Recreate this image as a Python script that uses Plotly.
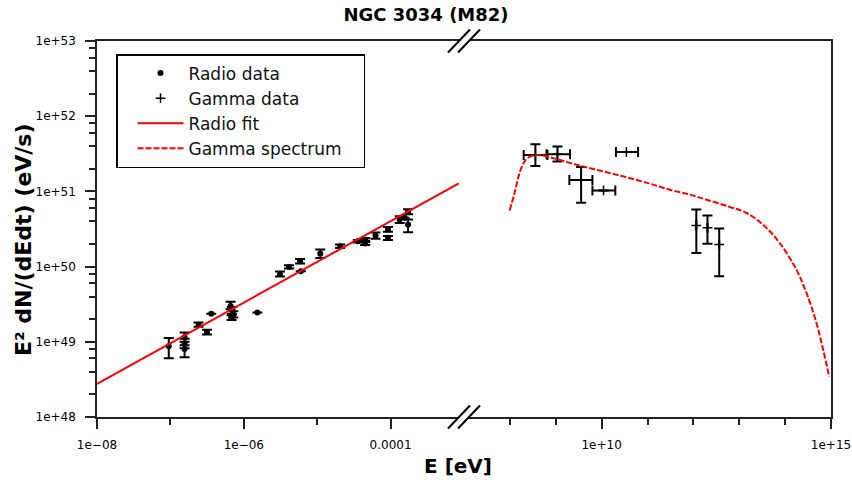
import plotly.graph_objects as go

# ---------------- data ----------------
radio_E = [9.5e-8, 1.56e-7, 1.56e-7, 1.56e-7, 2.42e-7, 3.15e-7, 3.6e-7, 6.6e-7, 6.9e-7,
           7.2e-7, 6.8e-7, 1.53e-6, 3.11e-6, 4.13e-6, 5.85e-6, 5.98e-6, 1.1e-5, 2.05e-5,
           3.57e-5, 4.5e-5, 4.5e-5, 6.23e-5, 9.2e-5, 9.2e-5, 1.33e-4, 1.55e-4, 1.73e-4, 1.73e-4]
radio_val = [8.7e48, 1.15e49, 9.5e48, 8.0e48, 1.69e49, 1.35e49, 2.36e49, 3.0e49, 2.6e49,
             2.3e49, 2.1e49, 2.46e49, 8.0e49, 9.9e49, 1.18e50, 8.65e49, 1.49e50, 1.87e50,
             2.17e50, 2.29e50, 2.03e50, 2.59e50, 3.11e50, 2.41e50, 4.23e50, 4.46e50, 5.36e50, 3.63e50]
radio_hi = [1.12e49, 1.33e49, 1.1e49, 9.0e48, 1.8e49, 1.45e49, 2.36e49, 3.4e49, 2.9e49,
            2.55e49, 2.25e49, 2.46e49, 8.6e49, 1.04e50, 1.26e50, 8.65e49, 1.69e50, 1.97e50,
            2.25e50, 2.4e50, 2.12e50, 2.85e50, 3.35e50, 2.55e50, 4.69e50, 4.46e50, 5.8e50, 4.23e50]
radio_lo = [6.06e48, 1.0e49, 8.2e48, 6.25e48, 1.58e49, 1.25e49, 2.36e49, 2.7e49, 2.35e49,
            2.1e49, 1.95e49, 2.46e49, 7.4e49, 9.4e49, 1.1e50, 8.65e49, 1.3e50, 1.77e50,
            2.09e50, 2.2e50, 1.94e50, 2.35e50, 2.9e50, 2.25e50, 3.8e50, 4.46e50, 4.95e50, 2.87e50]

fit_E = [1e-8, 8.5e-4]
fit_val = [2.75e48, 1.28e51]

gamma_E = [3.6e8, 1.09e9, 3.57e9, 1.1e10, 3.46e10, 1.16e12, 2.03e12, 3.66e12]
gamma_E_lo = [2.0e8, 6.3e8, 1.98e9, 6.3e9, 2.05e10, 1.16e12, 2.03e12, 3.66e12]
gamma_E_hi = [6.6e8, 2.05e9, 6.3e9, 1.99e10, 6.2e10, 1.16e12, 2.03e12, 3.66e12]
gamma_val = [3.05e51, 3.11e51, 1.42e51, 1.03e51, 3.34e51, 3.52e50, 3.28e50, 1.97e50]
gamma_val_lo = [2.17e51, 2.49e51, 7.06e50, 1.03e51, 3.34e51, 1.52e50, 2.01e50, 7.43e49]
gamma_val_hi = [4.23e51, 3.95e51, 2.11e51, 1.03e51, 3.34e51, 5.75e50, 4.79e50, 3.21e50]

spec_E = [9.9e7, 1.27e8, 1.64e8, 2.11e8, 2.72e8, 3.79e8, 4.88e8, 9.6e8, 2.64e9, 7.24e9,
          2.77e10, 1.07e11, 2.93e11, 8.05e11, 1.87e12, 6.07e12, 1.41e13, 3.26e13, 7.57e13,
          1.76e14, 2.92e14, 4.83e14, 6.75e14, 9.14e14]
spec_val = [5.58e50, 9.62e50, 1.78e51, 2.53e51, 2.9e51, 3.05e51, 3.02e51, 2.73e51, 2.29e51,
            1.96e51, 1.6e51, 1.28e51, 1.06e51, 9.12e50, 7.82e50, 6.25e50, 5.2e50, 3.63e50,
            2.07e50, 9.12e49, 4.46e49, 1.77e49, 7.82e48, 3.44e48]

y_tick_vals = [1e48, 1e49, 1e50, 1e51, 1e52, 1e53]
y_tick_text = ["1e+48", "1e+49", "1e+50", "1e+51", "1e+52", "1e+53"]
y_minor_mult = [2.0, 4.0, 6.0, 8.0]
x1_tick_vals = [1e-8, 1e-6, 1e-4]
x1_tick_text = ["1e\u221208", "1e\u221206", "0.0001"]
x1_minor = [1e-7, 1e-5]
x2_tick_vals = [1e10, 1e15]
x2_tick_text = ["1e+10", "1e+15"]
x2_minor = [1e8, 1e9, 1e11, 1e12, 1e13, 1e14]

# ---------------- helpers ----------------
def diff_or_none(a, b):
    return [(x - y) if x != y else None for x, y in zip(a, b)]

FONT = "DejaVu Sans"
NB = "\u00a0"
y_minor = [m * d for d in y_tick_vals[:-1] for m in y_minor_mult]

fig = go.Figure()

fig.add_trace(go.Scatter(
    x=radio_E, y=radio_val, mode="markers", name="Radio data",
    marker=dict(symbol="circle", size=6, color="black"),
    error_y=dict(type="data", symmetric=False,
                 array=diff_or_none(radio_hi, radio_val),
                 arrayminus=diff_or_none(radio_val, radio_lo),
                 color="black", thickness=2, width=5),
    xaxis="x", yaxis="y"))

fig.add_trace(go.Scatter(
    x=gamma_E, y=gamma_val, mode="markers", name="Gamma data",
    marker=dict(symbol="cross-thin", size=7, color="black",
                line=dict(width=1.5, color="black")),
    error_y=dict(type="data", symmetric=False,
                 array=diff_or_none(gamma_val_hi, gamma_val),
                 arrayminus=diff_or_none(gamma_val, gamma_val_lo),
                 color="black", thickness=2, width=5),
    error_x=dict(type="data", symmetric=False,
                 array=diff_or_none(gamma_E_hi, gamma_E),
                 arrayminus=diff_or_none(gamma_E, gamma_E_lo),
                 color="black", thickness=2, width=5),
    xaxis="x2", yaxis="y2"))

fig.add_trace(go.Scatter(
    x=fit_E, y=fit_val, mode="lines", name="Radio fit",
    line=dict(color="#ff0000", width=2), xaxis="x", yaxis="y"))

fig.add_trace(go.Scatter(
    x=spec_E, y=spec_val, mode="lines", name="Gamma spectrum" + NB * 3,
    line_shape="spline",
    line=dict(color="#ff0000", width=2, dash="6px,2px"), xaxis="x2", yaxis="y2"))

axis_common = dict(type="log", showgrid=False, zeroline=False, showline=True,
                   automargin=False,
                   linecolor="#222", linewidth=1.5, ticks="outside", tickcolor="#222",
                   tickwidth=1.5, ticklen=10,
                   tickfont=dict(family=FONT, size=12, color="black"))

fig.update_layout(
    xaxis=dict(axis_common, range=[-8, -3], domain=[0, 0.5], anchor="y", mirror=True,
               ticklabelstandoff=6,
               tickmode="array", tickvals=x1_tick_vals, ticktext=x1_tick_text,
               minor=dict(tickvals=x1_minor, ticks="outside", ticklen=6,
                          tickcolor="#222", tickwidth=1.5)),
    xaxis2=dict(axis_common, range=[7, 15], domain=[0.5, 1], anchor="y2", mirror=True,
                ticklabelstandoff=6,
                tickmode="array", tickvals=x2_tick_vals, ticktext=x2_tick_text,
                minor=dict(tickvals=x2_minor, ticks="outside", ticklen=6,
                           tickcolor="#222", tickwidth=1.5)),
    yaxis=dict(axis_common, range=[48, 53], domain=[0, 1], anchor="x",
               ticklabelstandoff=7,
               tickmode="array", tickvals=y_tick_vals, ticktext=y_tick_text,
               minor=dict(tickvals=y_minor, ticks="outside", ticklen=6,
                          tickcolor="#222", tickwidth=1.5)),
    yaxis2=dict(type="log", range=[48, 53], domain=[0, 1], anchor="x2", side="right",
                automargin=False,
                showline=True, linecolor="#222", linewidth=1.5, ticks="",
                showticklabels=False, showgrid=False, zeroline=False),
    width=852, height=482,
    margin=dict(l=97, r=21, t=41, b=65, autoexpand=False),
    paper_bgcolor="white", plot_bgcolor="white",
    title=dict(text="<b>NGC 3034 (M82)</b>", x=0.5, xref="container", xanchor="center",
               y=1 - 15 / 482, yref="container", yanchor="middle",
               font=dict(family=FONT, size=18, color="black")),
    legend=dict(x=(116 - 97) / 734, y=(417 - 54) / 376, xanchor="left", yanchor="top",
                bordercolor="black", borderwidth=1.5, bgcolor="white",
                font=dict(family=FONT, size=17, color="#111"),
                tracegroupgap=0, itemwidth=46, indentation=15),
    showlegend=True,
)

# axis titles
fig.add_annotation(text="<b>E [eV]</b>", xref="paper", yref="paper",
                   x=(458 - 97) / 734, y=(417 - 466) / 376, showarrow=False,
                   xanchor="center", yanchor="middle",
                   font=dict(family=FONT, size=20, color="black"))
fig.add_annotation(text="<b>E² dN/(dEdt) (eV/s)</b>", xref="paper", yref="paper",
                   x=(23 - 97) / 734, y=(417 - 240) / 376, showarrow=False, textangle=-90,
                   xanchor="center", yanchor="middle",
                   font=dict(family=FONT, size=22, color="black"))

# axis-break marks (double slash) on top and bottom frame lines
W, H = 734.0, 376.0
def px(dx):
    return 0.5 + dx / W
def py(dy):
    return dy / H
for ybase in (0.0, 1.0):
    c1, c2 = -5, 5
    path = (f"M {px(c1 - 11)},{ybase - py(11.5)} L {px(c1 + 11)},{ybase + py(11.5)} "
            f"L {px(c2 + 11)},{ybase + py(11.5)} L {px(c2 - 11)},{ybase - py(11.5)} Z")
    fig.add_shape(type="path", path=path, xref="paper", yref="paper",
                  fillcolor="white", line=dict(width=0), layer="above")
    for c in (c1, c2):
        fig.add_shape(type="line", xref="paper", yref="paper",
                      x0=px(c - 11), y0=ybase - py(11.5), x1=px(c + 11), y1=ybase + py(11.5),
                      line=dict(color="black", width=2), layer="above")

fig.write_html("out.html")
